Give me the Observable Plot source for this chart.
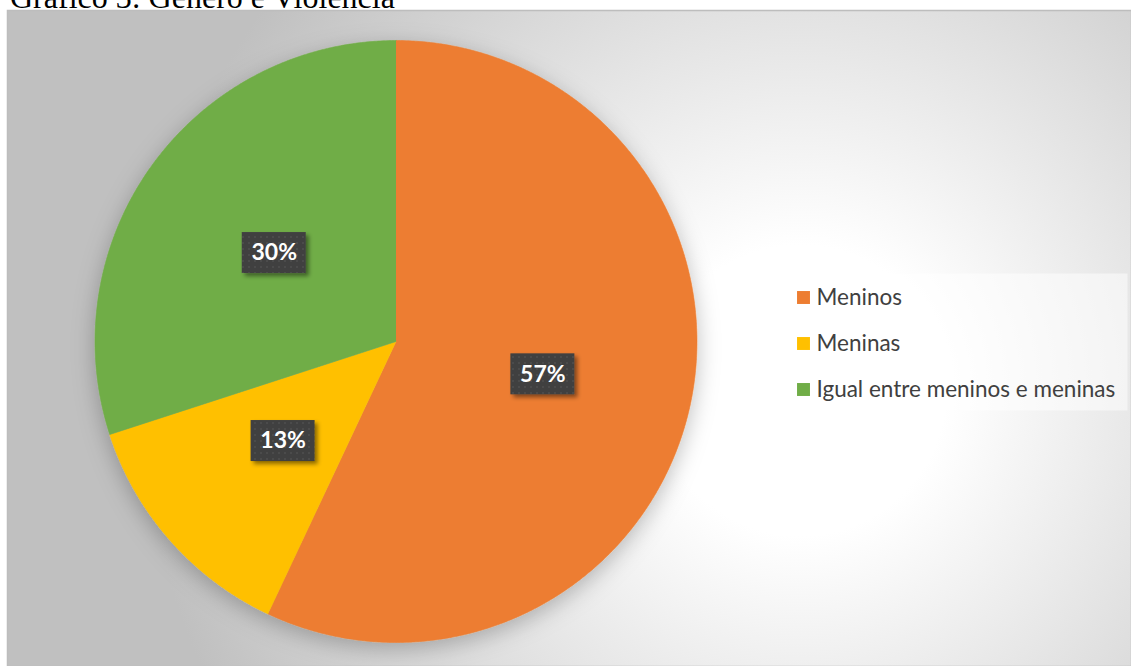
<!DOCTYPE html>
<html>
<head>
<meta charset="utf-8">
<script src="https://cdn.jsdelivr.net/npm/d3@7"></script>
<script src="https://cdn.jsdelivr.net/npm/@observablehq/plot@0.6"></script>
<style>
  html, body { margin: 0; padding: 0; background: #ffffff; overflow: hidden; }
  #wrap { position: relative; width: 1131px; height: 666px; overflow: hidden; }
  #title { position: absolute; left: 10px; top: -19px; font-family: "Liberation Serif", "Times New Roman", serif; font-size: 32px; line-height: 32px; color: #000; white-space: nowrap; z-index: 2; }
  #chart { position: absolute; left: 0; top: 0; }
  #legend { position: absolute; left: 783px; top: 273px; }
</style>
</head>
<body>
<div id="wrap">
  <div id="title">Gráfico 3: Gênero e Violência</div>
  <div id="chart"></div>
  <div id="legend"></div>
</div>
<script>
// ---- data ----
const categories = ["Meninos", "Meninas", "Igual entre meninos e meninas"];
const values = [57, 13, 30];
const labels = ["57%", "13%", "30%"];
const colors = ["#ED7D31", "#FFC000", "#70AD47"];

// ---- pie geometry from data ----
const arcs = d3.pie().sort(null).value(d => d)(values);
const slicePoints = [];
arcs.forEach((a, i) => {
  slicePoints.push({cat: categories[i], x: 0, y: 0});
  const steps = Math.max(2, Math.ceil((a.endAngle - a.startAngle) / 0.005));
  for (let s = 0; s <= steps; s++) {
    const t = a.startAngle + (a.endAngle - a.startAngle) * s / steps;
    slicePoints.push({cat: categories[i], x: Math.sin(t), y: Math.cos(t)});
  }
});
const labelData = arcs.map((a, i) => {
  const m = (a.startAngle + a.endAngle) / 2;
  return {cat: categories[i], text: labels[i], x: 0.5 * Math.sin(m), y: 0.5 * Math.cos(m)};
});

const R = 301;               // pie radius in px
const k = 1 / R;             // domain units per px
const cx = 395.5, cy = 341;

const colorScale = {domain: categories, range: colors};

const chart = Plot.plot({
  width: 1131,
  height: 666,
  marginLeft: 7,
  marginTop: 10,
  marginRight: 0,
  marginBottom: 0,
  style: {background: "transparent", overflow: "visible"},
  x: {domain: [-1, 1], range: [cx - R, cx + R], axis: null},
  y: {domain: [-1, 1], range: [cy + R, cy - R], axis: null},
  color: colorScale,
  marks: [
    Plot.frame({fill: "url(#bgGrad)", stroke: "#bdbdbd", strokeWidth: 1.5}),
    Plot.line(slicePoints, {x: "x", y: "y", z: "cat", fill: "cat", stroke: "cat", strokeWidth: 0.6, curve: "linear"}),
    Plot.rect(labelData, {
      x1: d => d.x - 32 * k, x2: d => d.x + 32 * k,
      y1: d => d.y - 20.5 * k, y2: d => d.y + 20.5 * k,
      fill: "url(#dots)"
    }),
    Plot.text(labelData, {x: "x", y: "y", text: "text", fill: "white", fontSize: 23, fontWeight: "bold", fontFamily: "Lato, 'Open Sans', sans-serif"})
  ]
});

// defs: background gradient, shadows, dot pattern
const svg = d3.select(chart);
const defs = svg.insert("defs", ":first-child");
const g = defs.append("radialGradient").attr("id", "bgGrad").attr("gradientUnits", "userSpaceOnUse")
  .attr("cx", 800).attr("cy", 390).attr("r", 660);
g.append("stop").attr("offset", "0").attr("stop-color", "#ffffff");
g.append("stop").attr("offset", "0.22").attr("stop-color", "#ffffff");
g.append("stop").attr("offset", "1").attr("stop-color", "#c0c0c0");

const f1 = defs.append("filter").attr("id", "pieShadow").attr("x", "-20%").attr("y", "-20%").attr("width", "140%").attr("height", "140%");
f1.append("feDropShadow").attr("dx", 0).attr("dy", 6).attr("stdDeviation", 11).attr("flood-color", "#000").attr("flood-opacity", 0.25);

const f2 = defs.append("filter").attr("id", "boxShadow").attr("x", "-30%").attr("y", "-30%").attr("width", "160%").attr("height", "160%");
f2.append("feDropShadow").attr("dx", 3).attr("dy", 3).attr("stdDeviation", 2).attr("flood-color", "#000").attr("flood-opacity", 0.45);

const p = defs.append("pattern").attr("id", "dots").attr("patternUnits", "userSpaceOnUse").attr("width", 6).attr("height", 6);
p.append("rect").attr("width", 6).attr("height", 6).attr("fill", "#404040");
p.append("rect").attr("x", 2).attr("y", 2).attr("width", 2).attr("height", 2).attr("fill", "#4c4c4c");

svg.select('g[aria-label="line"]').attr("filter", "url(#pieShadow)");
svg.select('g[aria-label="rect"]').attr("filter", "url(#boxShadow)");

document.getElementById("chart").appendChild(chart);

// ---- legend (second Plot) ----
const legend = Plot.plot({
  width: 344,
  height: 137,
  margin: 0,
  style: {background: "transparent", overflow: "visible"},
  x: {axis: null},
  y: {type: "point", domain: categories, range: [24, 116], padding: 0, axis: null},
  color: colorScale,
  marks: [
    Plot.frame({fill: "white", fillOpacity: 0.5, stroke: "none"}),
    Plot.dot(categories, {y: d => d, frameAnchor: "left", dx: 20, symbol: "square", r: 7.3, fill: d => d, stroke: "none"}),
    Plot.text(categories, {y: d => d, frameAnchor: "left", dx: 33, text: d => d, textAnchor: "start", fontSize: 22.5, fill: "#404040", fontFamily: "Lato, 'Open Sans', sans-serif"})
  ]
});
document.getElementById("legend").appendChild(legend);
</script>
</body>
</html>
